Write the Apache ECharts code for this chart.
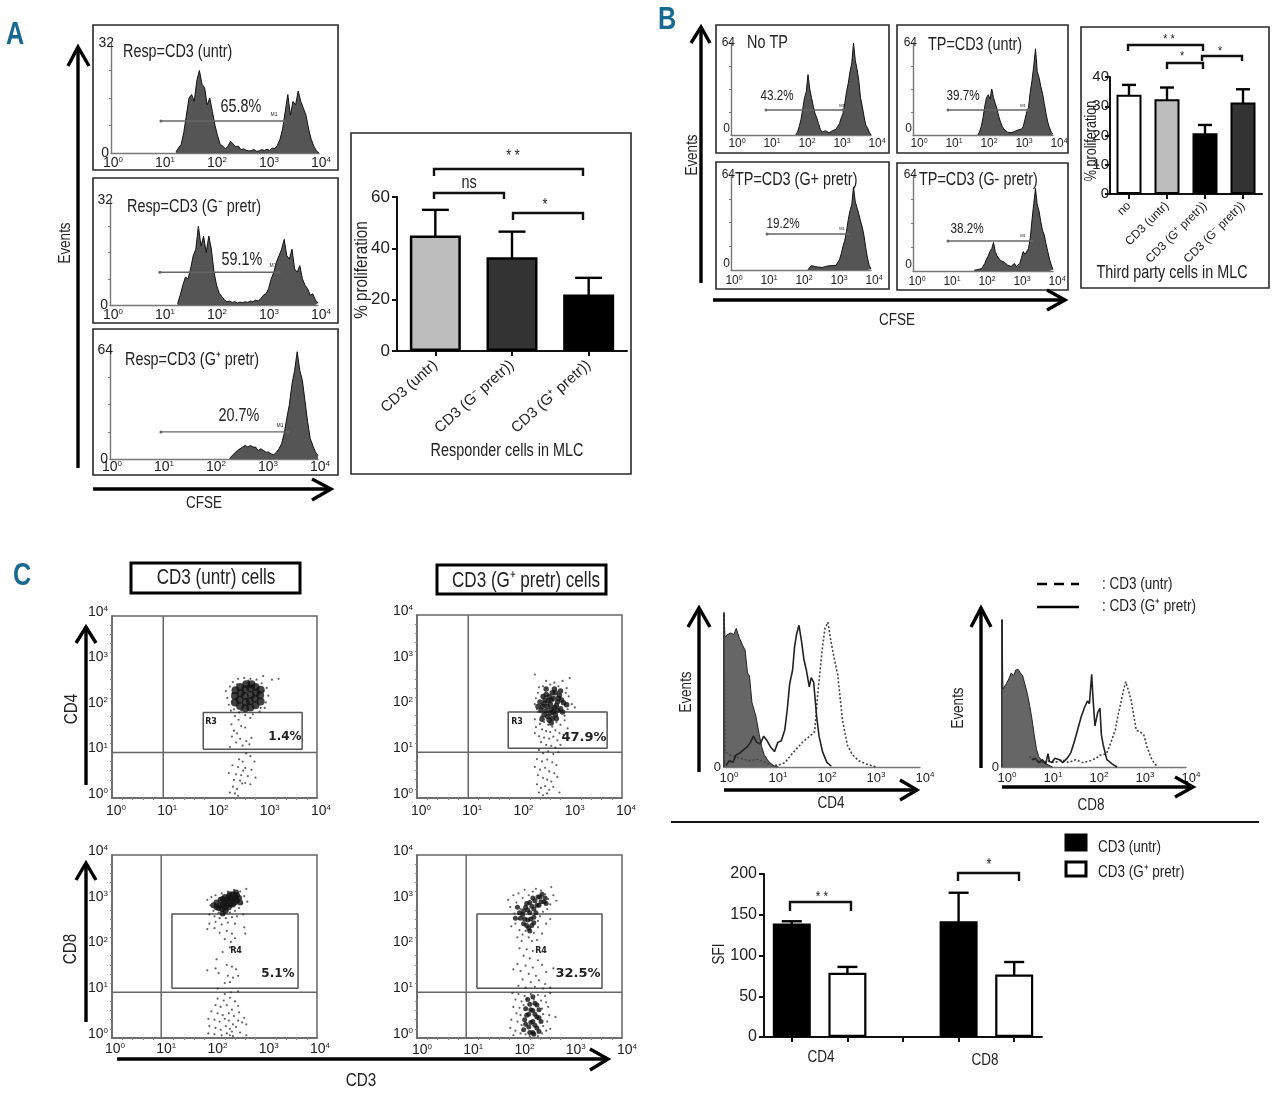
<!DOCTYPE html>
<html><head><meta charset="utf-8"><style>html,body{margin:0;background:#fff}#c{width:1280px;height:1095px}</style>
<script src="https://cdn.jsdelivr.net/npm/echarts@6/dist/echarts.min.js"></script></head><body><div id="c"></div>
<script>
// ---------- DATA (decades = log10 of fluorescence) ----------
const cfseA1Start=1.25, cfseA1=[.3,1.5,2.5,6,11,16,17,15,21,24,20,19,14,16,12,8,5,2.5,2,1.2,2,3.4,2.6,1.8,2,1,1.2,.8,.6,.7,1,.5,.6,1,.7,1.1,.8,1.4,1.3,2.2,4,7,12,17,11,15,14,18,15,13,11,7,4,2,.6,0];
const cfseA2Start=1.3, cfseA2=[.4,3,6,8.5,8,11,15,17,24,18,21,16,21,17,10,6,3.6,2.6,1.6,1,1.2,.8,1,.6,.9,.7,1,.8,1.2,1,1.5,1.2,2,3,3.4,5,8,10,13,15,17,20,15,14,17,11,10,12,8,6,5,3,3.4,1.5,.6];
const cfseA3Start=2.3, cfseA3=[.5,2,3.5,5,6,7,8,7,8,7,7,5,6,5,4,4,3,2.5,4,6,9,15,24,32,44,52,63,52,46,34,22,12,8,4,2];
const cfseB1Start=1.85, cfseB1=[.5,2,6,11,18,26,30,42,32,26,20,15,12,8,4,2,2.5,3,2,1.5,2,3,3,4,6,8,12,15,22,30,36,44,50,64,52,46,38,26,20,13,7,5,2,0];
const cfseB2Start=1.85, cfseB2=[.5,2,6,12,20,26,28,25,32,26,22,18,13,9,6,4,3,2,1.5,1.5,2,2.5,3,3.5,3,4,6,11,16,19,30,38,48,60,44,40,34,29,22,15,9,5,2,.8];
const cfseB3Start=2.2, cfseB3=[.4,1.5,3,3.4,2.2,3,2,2.5,1.6,2,2.4,2,2.8,2.4,3,2.6,3,4,7,11,16,20,26,34,40,44,56,46,42,38,33,29,23,15,8,3,.6];
const cfseB4Start=1.75, cfseB4=[.5,.3,1,.5,1.5,3,5,8,10,13,15,19,13,10,9,7,8,6,7,4,3.5,3,4,5,3,3.4,5,9,13,11,12,15,22,34,45,55,44,40,33,27,24,18,13,8,4,1];
const yMaxA=[32,32,64], yMaxB=[64,64,64,64];
const gateA1=[.96,3.33,9.3], gateA2=[.96,3.25,10], gateA3=[.98,3.42,15.9];
const gateB1=[1,3.2,17.4], gateB2=[1,3.29,17.4], gateB3=[1.03,3.34,24.3], gateB4=[1,3.4,20];

const catsA=['CD3 (untr)','CD3 (G\u207B pretr))','CD3 (G\u207A pretr))'];
const meanA=[45,36.5,22], errTopA=[55,46.5,28.5];
const catsB=['no','CD3 (untr)','CD3 (G\u207A pretr))','CD3 (G\u207B pretr))'];
const meanB=[33.9,32.4,20.8,31.3], errTopB=[37.3,36.4,23.6,35.8];
const catsC=['CD4','','','CD8',''];
const meanUntr=[139.3,null,null,142,null], errUntr=[142,null,null,177,null];
const meanPretr=[null,78.7,null,null,76.6], errPretr=[null,86,null,null,92];

const cd4Filled=[[0,0],[0,100],[.02,84],[.07,86],[.14,87],[.2,86],[.25,90],[.31,84],[.38,79],[.43,76],[.48,61],[.52,59],[.57,42],[.65,33],[.72,21],[.77,13],[.82,8],[.9,4],[1,1],[1.11,0]];
const cd4Pretr=[[.04,1],[.11,4],[.18,3],[.25,8],[.32,9],[.39,11],[.47,13],[.54,16],[.6,20],[.67,16],[.74,15],[.81,20],[.88,17],[.95,13],[1.03,10],[1.1,16],[1.17,17],[1.24,24],[1.29,37],[1.34,54],[1.4,63],[1.44,78],[1.48,86],[1.53,92],[1.58,82],[1.63,70],[1.68,63],[1.74,52],[1.78,58],[1.83,55],[1.89,33],[1.94,20],[2.01,10],[2.1,3],[2.19,.5]];
const cd4Untr=[[0,100],[.02,10],[.1,8],[.3,6],[.5,4],[.7,5],[.9,2],[1.1,1],[1.25,3],[1.4,9],[1.6,16],[1.75,20],[1.85,23],[1.92,50],[2,75],[2.06,90],[2.12,94],[2.18,82],[2.24,72],[2.32,60],[2.42,30],[2.52,14],[2.62,8],[2.75,4],[2.9,2],[3.1,0]];
const cd8Filled=[[0,0],[0,100],[.02,53],[.1,57],[.15,60],[.2,64],[.25,62],[.3,66],[.35,66.5],[.4,64],[.45,62],[.5,56],[.55,50],[.6,42],[.65,33],[.7,22],[.75,12],[.8,7],[.9,3],[1,1.5],[1.1,0]];
const cd8Pretr=[[.65,5],[.72,6],[.8,3],[.88,5],[.95,2],[1,9],[1.03,4],[1.08,3],[1.15,6],[1.25,5],[1.32,3],[1.42,6],[1.5,10],[1.58,18],[1.65,26],[1.72,34],[1.8,41],[1.86,45],[1.9,43],[1.95,63],[1.98,46],[2.02,28],[2.08,37],[2.13,40],[2.16,22],[2.2,15],[2.28,5],[2.4,2],[2.5,0]];
const cd8Untr=[[.6,7],[.7,5],[.85,3],[1,4],[1.15,3],[1.3,5],[1.45,3],[1.6,5],[1.75,3],[1.9,4],[2.05,6],[2.12,8],[2.27,9],[2.36,16],[2.46,25],[2.52,35],[2.58,43],[2.64,52],[2.69,58],[2.75,52],[2.81,45],[2.87,34],[2.92,25],[3,24],[3.08,22],[3.15,14],[3.23,7],[3.3,3],[3.38,0]];

const dotsCoreP1=[[2.40,2.10],[2.40,2.24],[2.41,2.37],[2.50,2.02],[2.49,2.16],[2.51,2.30],[2.50,2.44],[2.60,1.97],[2.61,2.11],[2.59,2.25],[2.60,2.39],[2.62,2.50],[2.70,1.99],[2.69,2.13],[2.71,2.27],[2.70,2.41],[2.72,2.50],[2.80,2.04],[2.79,2.18],[2.81,2.32],[2.80,2.44],[2.90,2.12],[2.89,2.26],[2.90,2.38]];
const dotsP1=[[2.25,2.20],[2.22,2.35],[2.28,2.05],[2.32,1.92],[2.30,2.45],[2.36,2.55],[2.46,2.62],[2.58,2.64],[2.70,2.62],[2.82,2.60],[2.92,2.52],[3.02,2.42],[3.05,2.25],[3.00,2.10],[2.98,1.98],[2.88,1.90],[2.75,1.84],[2.60,1.82],[2.48,1.88],[2.38,1.95],[3.12,2.60],[3.25,2.62],[2.95,2.68],[2.35,2.30],[2.34,2.12],[2.96,2.35],[2.44,2.50],[2.66,2.58],[2.90,1.98],[2.52,1.92],[2.40,1.80],[2.47,1.72],[2.33,1.62],[2.52,1.58],[2.38,1.48],[2.44,1.42],[2.60,1.55],[2.70,1.76],[2.34,1.35],[2.50,1.30],[2.42,1.22],[2.62,1.25],[2.68,1.18],[2.72,1.32],[2.55,1.15],[2.30,1.12],[2.62,.98],[2.70,.92],[2.48,.85],[2.55,.80],[2.78,.80],[2.35,.72],[2.46,.68],[2.60,.66],[2.72,.62],[2.28,.55],[2.42,.52],[2.52,.50],[2.65,.48],[2.80,.45],[2.38,.40],[2.50,.38],[2.60,.33],[2.70,.30],[2.36,.25],[2.44,.20],[2.30,.12],[2.40,.10],[2.46,.05],[2.54,.32],[2.56,.60]];
const dotsCoreP2=[[2.45,2.00],[2.50,2.14],[2.52,1.90],[2.58,2.22],[2.60,2.05],[2.60,1.85],[2.66,2.18],[2.68,1.98],[2.70,1.82],[2.74,2.10],[2.78,2.24],[2.80,1.95],[2.55,1.78],[2.64,1.74],[2.46,2.22],[2.86,2.08],[2.42,1.92],[2.48,2.06],[2.54,2.00],[2.56,2.12],[2.52,2.26],[2.62,2.14],[2.64,2.30],[2.62,1.94],[2.66,1.88],[2.72,2.02],[2.74,1.92],[2.76,2.18],[2.70,2.30],[2.82,2.14],[2.84,1.88],[2.58,1.70],[2.48,1.82],[2.40,2.10],[2.72,1.74],[2.92,2.04],[2.36,2.00],[2.52,2.38],[2.68,2.38],[2.80,2.34],[2.44,1.72],[2.62,1.64]];
const dotsP2=[[2.36,2.30],[2.32,2.18],[2.30,2.05],[2.38,2.42],[2.46,2.44],[2.52,2.56],[2.60,2.48],[2.68,2.52],[2.76,2.44],[2.84,2.56],[2.92,2.40],[2.98,2.62],[2.30,2.70],[2.96,2.22],[3.02,2.05],[2.94,1.94],[2.88,1.80],[3.08,1.98],[2.90,2.30],[2.36,1.88],[2.42,1.78],[2.34,1.94],[2.30,1.72],[2.40,1.62],[2.48,1.66],[2.56,1.60],[2.64,1.56],[2.72,1.66],[2.80,1.60],[2.88,1.70],[2.94,1.52],[2.32,1.55],[2.44,1.50],[2.52,1.46],[2.60,1.44],[2.70,1.48],[2.78,1.42],[2.86,1.38],[2.30,1.42],[2.38,1.35],[2.48,1.32],[2.58,1.30],[2.66,1.34],[2.74,1.26],[2.42,1.22],[2.52,1.16],[2.62,1.14],[2.70,1.10],[2.80,1.16],[2.38,1.05],[2.46,.98],[2.56,1.02],[2.66,.96],[2.76,1.00],[2.34,.85],[2.44,.80],[2.54,.84],[2.64,.78],[2.72,.72],[2.30,.68],[2.40,.62],[2.50,.66],[2.58,.58],[2.68,.54],[2.36,.50],[2.46,.44],[2.54,.40],[2.62,.36],[2.74,.46],[2.34,.30],[2.42,.22],[2.50,.26],[2.58,.18],[2.38,.12],[2.46,.06],[2.54,.10],[2.66,.24],[2.78,.12]];
const dotsCoreP3=[[2.10,2.90],[2.12,3.02],[2.20,2.84],[2.20,2.96],[2.20,3.08],[2.28,2.86],[2.28,2.98],[2.28,3.10],[2.36,2.92],[2.36,3.04],[2.36,3.14],[2.44,3.00],[2.44,3.12],[2.04,2.96],[2.16,2.92],[2.14,2.82],[2.24,2.90],[2.24,3.02],[2.32,2.92],[2.32,3.04],[2.40,2.96],[2.40,3.08],[2.16,3.04],[2.08,2.84],[2.48,3.06],[2.30,3.14],[2.22,2.78],[1.98,2.90],[2.04,2.86],[2.50,2.96],[2.42,3.18],[2.16,2.72]];
const dotsP3=[[1.86,3.02],[1.92,2.90],[1.94,3.08],[1.98,2.78],[2.02,3.12],[2.08,2.74],[2.14,3.16],[2.18,2.72],[2.26,3.20],[2.30,2.74],[2.38,3.24],[2.40,2.78],[2.48,2.84],[2.50,3.20],[2.54,2.94],[2.58,3.10],[2.62,3.26],[2.64,2.98],[2.00,2.66],[2.10,2.62],[1.90,2.70],[2.22,2.62],[2.34,2.64],[2.44,2.66],[2.56,2.70],[1.90,2.50],[2.02,2.54],[1.86,2.38],[2.00,2.40],[2.14,2.48],[2.26,2.52],[2.40,2.50],[2.58,2.42],[2.10,2.30],[2.24,2.34],[2.34,2.28],[2.60,2.28],[2.20,2.16],[2.32,2.10],[2.40,2.18],[2.30,1.98],[2.40,1.96],[2.16,1.88],[2.04,1.72],[2.02,1.52],[1.86,1.48],[2.08,1.42],[2.24,1.60],[2.34,1.56],[2.42,1.50],[2.26,1.36],[2.36,1.32],[2.46,1.36],[2.20,1.20],[2.30,1.22],[2.06,1.08],[2.32,1.00],[2.46,1.02],[2.20,.96],[2.06,.86],[2.18,.82],[2.30,.88],[2.40,.80],[2.02,.72],[2.12,.68],[2.24,.72],[2.34,.62],[2.46,.70],[1.94,.58],[2.06,.54],[2.16,.50],[2.28,.54],[2.38,.48],[2.48,.56],[2.58,.44],[1.88,.42],[2.00,.40],[2.10,.36],[2.20,.42],[2.28,.38],[2.36,.30],[2.46,.38],[2.54,.34],[1.90,.26],[2.02,.22],[2.12,.18],[2.22,.26],[2.30,.20],[2.34,.14],[2.42,.24],[2.62,.30],[1.88,.10],[2.00,.08],[2.14,.06],[2.24,.10],[2.30,.06],[2.36,.04],[2.50,.12],[2.62,.06]];
const dotsCoreP4=[[2.06,2.70],[2.12,2.86],[2.16,2.58],[2.20,2.74],[2.20,2.96],[2.28,2.64],[2.28,2.82],[2.30,3.00],[2.38,2.90],[2.40,3.08],[2.48,2.98],[2.14,2.46],[2.24,2.46],[2.02,2.62],[2.08,2.78],[2.10,2.60],[2.16,2.80],[2.14,2.94],[2.22,2.60],[2.24,2.88],[2.26,3.06],[2.32,2.74],[2.34,2.90],[2.36,3.08],[2.42,2.98],[2.44,3.14],[2.50,3.06],[2.52,2.94],[2.18,2.40],[2.08,2.50],[2.00,2.74],[1.96,2.86],[2.28,2.52],[2.20,2.34],[1.92,2.62],[2.10,.40],[2.18,.24],[2.18,.52],[2.26,.12],[2.26,.36],[2.26,.60],[2.34,.22],[2.34,.46],[2.34,.72],[2.20,.74],[2.42,.36],[2.12,.30],[2.14,.50],[2.12,.64],[2.20,.12],[2.22,.34],[2.22,.62],[2.30,.28],[2.30,.52],[2.30,.76],[2.38,.14],[2.38,.44],[2.38,.62],[2.28,.08],[2.16,.84],[2.26,.90],[2.08,.18]];
const dotsP4=[[1.78,3.02],[1.82,2.86],[1.88,3.12],[1.90,2.72],[1.94,2.96],[1.98,2.60],[1.98,3.16],[2.02,2.82],[2.06,3.06],[2.10,3.24],[2.18,3.12],[2.26,3.20],[2.32,3.26],[2.42,3.22],[2.50,3.14],[2.56,3.04],[2.60,2.92],[2.54,2.82],[2.46,2.76],[2.40,2.66],[2.66,3.12],[2.72,3.00],[2.62,3.30],[2.36,2.56],[1.84,2.44],[1.92,2.50],[2.00,2.36],[2.06,2.26],[2.12,2.34],[2.18,2.20],[2.28,2.30],[2.36,2.42],[2.44,2.28],[2.52,2.50],[1.96,2.20],[2.04,2.12],[2.24,2.12],[2.34,2.14],[2.60,2.60],[2.00,1.96],[2.14,1.94],[2.26,1.90],[2.08,1.80],[2.20,1.74],[2.36,1.70],[1.96,1.62],[2.12,1.58],[2.26,1.54],[2.44,1.60],[1.88,1.50],[2.02,1.46],[2.18,1.40],[2.32,1.36],[2.52,1.44],[2.66,1.52],[2.06,1.28],[2.22,1.22],[2.38,1.26],[2.50,1.18],[1.98,1.14],[2.12,1.10],[2.30,1.12],[2.46,1.08],[2.60,1.10],[1.86,.98],[1.98,.96],[2.10,.92],[2.22,.96],[2.36,.94],[2.50,.92],[2.60,.98],[1.92,.84],[2.04,.80],[2.14,.86],[2.28,.84],[2.42,.82],[2.52,.78],[1.88,.68],[2.00,.66],[2.08,.72],[2.44,.64],[2.56,.68],[1.94,.54],[2.02,.50],[2.46,.52],[2.58,.50],[1.84,.40],[1.96,.36],[2.04,.28],[2.46,.26],[2.54,.36],[2.70,.46],[1.82,.22],[1.92,.16],[2.02,.10],[2.12,.08],[2.44,.10],[2.52,.16],[2.60,.20],[1.88,.06],[2.20,.04],[2.36,.04]];
const quadP1=[1,1], quadP2=[1,1], quadP3=[.96,1], quadP4=[.96,1];
const regionP1=[1.78,3.71,1.07,1.88], regionP2=[1.78,3.71,1.09,1.88], regionP3=[1.17,3.63,1.09,2.71], regionP4=[1.17,3.61,1.09,2.71];

// ---------- BUILD ----------
const F='"Liberation Sans",sans-serif', TXT='#222';
const grid=[],xAxis=[],yAxis=[],series=[],graphic=[];
const base={type:'line',symbol:'none',silent:true,animation:false,clip:false};
const decade=(fs,sup)=>({formatter:v=>'{b|10}{s|'+v+'}',rich:{b:{fontSize:fs,fontFamily:F,color:TXT},s:{fontSize:sup,fontFamily:F,color:TXT,padding:[0,0,Math.round(fs*.45),0]}}});
function addGrid(r,x,y,g){const i=grid.length;grid.push(Object.assign({left:r[0],top:r[1],width:r[2],height:r[3],containLabel:false},g||{}));xAxis.push(Object.assign({gridIndex:i},x));yAxis.push(Object.assign({gridIndex:i},y));return i}
const bins=(s,a)=>a.map((v,k)=>[+(s+k*.05).toFixed(2),v]);
// reference type is a narrow sans: text is drawn taller and squeezed horizontally
function txt(t,x,y,o){o=o||{};const narrow=!o.ff;graphic.push({type:'text',x,y,rotation:(o.rot||0)*Math.PI/180,scaleX:narrow?.8:1,silent:true,z:20,style:{text:t,fontFamily:o.ff||F,fontSize:(o.fs||16)*(narrow?1.125:1),fontWeight:o.fw||'normal',fill:o.c||TXT,align:o.al||'center',verticalAlign:'middle'}})}
function frame(x0,y0,x1,y1,w,c){graphic.push({type:'rect',silent:true,z:1,shape:{x:x0,y:y0,width:x1-x0,height:y1-y0},style:{fill:'none',stroke:c||'#2a2a2a',lineWidth:w||1.6}})}
function poly(p,w,c,dash){graphic.push({type:'polyline',silent:true,z:15,shape:{points:p},style:{fill:'none',stroke:c||'#111',lineWidth:w||2,lineDash:dash||null}})}
function bracket(x0,x1,y,drop){poly([[x0,y+drop],[x0,y],[x1,y],[x1,y+drop]],2.4,'#111')}

function hist(r,bn,gate,yMax,shift,labFs,minBottom,lblMargin,yMargin,zeroPad){
  const i=addGrid(r,
    {type:'value',min:0,max:4,interval:1,splitLine:{show:false},axisTick:{show:false},axisLine:{lineStyle:{color:'#777',width:1.4}},
     axisLabel:Object.assign({margin:lblMargin,padding:[0,0,0,shift*2],hideOverlap:false},decade(labFs,Math.round(labFs*.6)))},
    {type:'value',min:0,max:yMax,interval:yMax,splitLine:{show:false},axisTick:{show:false},axisLine:{onZero:false,lineStyle:{color:'#777',width:1.4}},
     minorTick:{show:true,splitNumber:4,length:2,lineStyle:{color:'#777'}},
     axisLabel:{margin:yMargin,fontSize:labFs,fontFamily:F,color:TXT,verticalAlignMinLabel:minBottom?'bottom':'middle',
       formatter:v=>v===0?'{z|0}':String(v),rich:{z:{fontSize:labFs,fontFamily:F,color:TXT,padding:[0,zeroPad,0,0]}}}});
  series.push(Object.assign({},base,{xAxisIndex:i,yAxisIndex:i,data:bn,lineStyle:{color:'#111',width:1},areaStyle:{color:'#555',opacity:1},z:3}));
  series.push(Object.assign({},base,{xAxisIndex:i,yAxisIndex:i,data:[[gate[0],gate[2]],[gate[1],gate[2]]],lineStyle:{color:'#666',width:1.4},symbol:'circle',symbolSize:3,itemStyle:{color:'#666'},z:4}));
}
// Panel A histograms
hist([111,43,208,110],bins(cfseA1Start,cfseA1),gateA1,yMaxA[0],2,14,false,3,-3,5);
hist([110,200,208,105],bins(cfseA2Start,cfseA2),gateA2,yMaxA[1],3,14,false,3,-3,5);
hist([110,350,208,109],bins(cfseA3Start,cfseA3),gateA3,yMaxA[2],2,14,false,1,-3,5);
[[93,25,338,170],[93,178,338,323],[93,329,338,475]].forEach(f=>frame(...f));
txt('Resp=CD3 (untr)',123,52,{al:'left'});txt('Resp=CD3 (G\u207B pretr)',127,207,{al:'left'});txt('Resp=CD3 (G\u207A pretr)',125,360,{al:'left'});
txt('65.8%',241,107);txt('59.1%',242,260);txt('20.7%',239,416);
[[274,115],[273,266],[280,426]].forEach(p=>txt('M1',p[0],p[1],{fs:5,ff:'Liberation Sans'}));
poly([[78,468],[78,47]],3.4,'#000');poly([[68,66],[78,47],[89,66]],3.4,'#000');
poly([[93,489],[331,489]],3.4,'#000');poly([[312,479],[331,489],[312,500]],3.4,'#000');
txt('Events',65,243,{rot:90,fs:15});txt('CFSE',204,503,{fs:15});
txt('A',15,35,{fs:28,fw:'bold',c:'#17698f'});

function bars(r,cats,val,err,colors,opt){
  const i=addGrid(r,
    {type:'category',data:cats,axisLine:{lineStyle:{color:'#111',width:2}},axisTick:{show:true,alignWithLabel:true,length:5,lineStyle:{color:'#111',width:2}},
     axisLabel:{interval:0,rotate:opt.rot,fontSize:opt.catFs,fontFamily:F,color:TXT,margin:opt.catMargin}},
    {type:'value',min:0,max:opt.max,interval:opt.step,splitLine:{show:false},axisLine:{show:true,lineStyle:{color:'#111',width:2}},axisTick:{show:true,length:5,lineStyle:{color:'#111',width:2}},
     axisLabel:{fontSize:opt.valFs,fontFamily:F,color:TXT,margin:opt.valMargin}});
  series.push({type:'bar',silent:true,animation:false,xAxisIndex:i,yAxisIndex:i,barWidth:opt.w,z:3,
    data:val.map((v,k)=>({value:v,itemStyle:{color:colors[k],borderColor:'#000',borderWidth:opt.bw}}))});
  series.push(errSeries(i,err,opt.cap));
}
function errSeries(i,err,cap){return {type:'custom',silent:true,animation:false,xAxisIndex:i,yAxisIndex:i,z:2,clip:false,
  data:err.map((v,k)=>[k,v]).filter(d=>d[1]!==null),encode:{x:0,y:1},
  renderItem:(p,api)=>{const top=api.coord([api.value(0),api.value(1)]),bot=api.coord([api.value(0),0]);
    return {type:'group',children:[
      {type:'line',shape:{x1:top[0],y1:top[1],x2:bot[0],y2:bot[1]},style:{stroke:'#000',lineWidth:2.4}},
      {type:'line',shape:{x1:top[0]-cap/2,y1:top[1],x2:top[0]+cap/2,y2:top[1]},style:{stroke:'#000',lineWidth:2.4}}]}}}}

// Panel A bars
frame(351,133,631,474);
bars([397,197,230,154],catsA,meanA,errTopA,['#bdbdbd','#333','#000'],{rot:42,catFs:15,catMargin:12,max:60,step:20,valFs:17,valMargin:7,w:51,bw:2.5,cap:27});
bracket(434,583,169,7);bracket(434,504,193,6);bracket(513,583,213,7);
txt('* *',513,157,{fs:14});txt('ns',469,183,{fs:16});txt('*',545,206,{fs:14});
txt('% proliferation',362,270,{rot:90,fs:17});txt('Responder cells in MLC',507,451,{fs:16});

// Panel B histograms
hist([731,43,140,92],bins(cfseB1Start,cfseB1),gateB1,yMaxB[0],6,12,true,3,-4,5);
hist([913,43,140,92],bins(cfseB2Start,cfseB2),gateB2,yMaxB[1],6,12,true,3,-4,5);
hist([731,175,140,95],bins(cfseB3Start,cfseB3),gateB3,yMaxB[2],3,12,true,5,-4,5);
hist([913,175,140,96],bins(cfseB4Start,cfseB4),gateB4,yMaxB[3],4,12,true,5,-4,5);
[[716,25,889,153],[897,25,1068,153],[716,162,889,289],[897,163,1068,290]].forEach(f=>frame(...f));
txt('No TP',747,43,{al:'left'});txt('TP=CD3 (untr)',928,45,{al:'left'});txt('TP=CD3 (G+ pretr)',735,180,{al:'left'});txt('TP=CD3 (G- pretr)',919,180,{al:'left'});
txt('43.2%',777,96,{fs:13});txt('39.7%',963,96,{fs:13});txt('19.2%',783,224,{fs:13});txt('38.2%',967,229,{fs:13});
[[842,106],[1023,106],[842,229],[1023,236]].forEach(p=>txt('M1',p[0],p[1],{fs:4,ff:'Liberation Sans'}));
poly([[701,283],[701,27]],3.4,'#000');poly([[691,43],[701,27],[710,43]],3.4,'#000');
poly([[713,300],[1065,300]],3.4,'#000');poly([[1047,290],[1065,300],[1047,310]],3.4,'#000');
txt('Events',692,155,{rot:90,fs:15});txt('CFSE',897,320,{fs:15});
txt('B',667,20,{fs:28,fw:'bold',c:'#17698f'});

// Panel B bars
frame(1081,27,1269,288);
bars([1110,77,152,117],catsB,meanB,errTopB,['#fff','#bdbdbd','#000','#333'],{rot:45,catFs:12,catMargin:10,max:40,step:10,valFs:15,valMargin:1,w:25,bw:2,cap:14});
bracket(1128,1203,45,6);bracket(1167,1203,63,6);bracket(1202,1242,56,5);
txt('* *',1169,39,{fs:12});txt('*',1182,56,{fs:12});txt('*',1220,51,{fs:12});
txt('% proliferation',1092,141,{rot:90,fs:14});txt('Third party cells in MLC',1172,273,{fs:16});

// Panel C dot plots
function dots(r,core,cloud,quad,reg,coreSize,shiftX,margin){
  const i=addGrid(r,
    {type:'value',min:0,max:4,interval:1,splitLine:{show:false},axisTick:{show:false},axisLine:{lineStyle:{color:'#666',width:1.5}},
     minorTick:{show:true,splitNumber:5,length:2,lineStyle:{color:'#888'}},
     axisLabel:Object.assign({margin:margin,padding:[0,0,0,shiftX*2]},decade(14,8))},
    {type:'value',min:0,max:4,interval:1,splitLine:{show:false},axisTick:{show:false},axisLine:{lineStyle:{color:'#666',width:1.5}},
     minorTick:{show:true,splitNumber:5,length:2,lineStyle:{color:'#888'}},
     axisLabel:Object.assign({margin:4,padding:[0,0,8,0]},decade(14,8))},
    {show:true,borderColor:'#666',borderWidth:1.5,backgroundColor:'transparent'});
  const ln=(d,c,w)=>Object.assign({},base,{xAxisIndex:i,yAxisIndex:i,data:d,lineStyle:{color:c,width:w},z:4});
  series.push(ln([[quad[0],0],[quad[0],4]],'#666',1.5));
  series.push(ln([[0,quad[1]],[4,quad[1]]],'#666',1.5));
  series.push(ln([[reg[0],reg[2]],[reg[1],reg[2]],[reg[1],reg[3]],[reg[0],reg[3]],[reg[0],reg[2]]],'#555',1.5));
  series.push({type:'scatter',silent:true,animation:false,xAxisIndex:i,yAxisIndex:i,data:cloud,symbolSize:2.2,itemStyle:{color:'#222',opacity:.7},z:5});
  series.push({type:'scatter',silent:true,animation:false,xAxisIndex:i,yAxisIndex:i,data:core,symbolSize:coreSize,itemStyle:{color:'#111',opacity:.8},z:5});
}
dots([112,616,205,182],dotsCoreP1,dotsP1,quadP1,regionP1,8,4,6);
dots([417,615,205,183],dotsCoreP2,dotsP2,quadP2,regionP2,5.5,4,6);
dots([112,855,205,183],dotsCoreP3,dotsP3,quadP3,regionP3,6,3,4);
dots([417,855,205,183],dotsCoreP4,dotsP4,quadP4,regionP4,5,5,5);
frame(131,563,300,593,3,'#000');frame(437,565,606,594,3,'#000');
txt('CD3 (untr) cells',216,578,{fs:19});txt('CD3 (G\u207A pretr) cells',526,581,{fs:19});
const DV='"DejaVu Sans",sans-serif';
txt('R3',211,722,{fs:8,fw:'bold',ff:DV});txt('1.4%',285,737,{fs:12,fw:'bold',ff:DV});
txt('R3',517,722,{fs:8,fw:'bold',ff:DV});txt('47.9%',584,738,{fs:13,fw:'bold',ff:DV});
txt('R4',236,951,{fs:8,fw:'bold',ff:DV});txt('5.1%',278,974,{fs:12,fw:'bold',ff:DV});
txt('R4',541,951,{fs:8,fw:'bold',ff:DV});txt('32.5%',578,974,{fs:13,fw:'bold',ff:DV});
poly([[86,785],[86,627]],3.4,'#000');poly([[76,643],[86,627],[96,643]],3.4,'#000');
poly([[86,1022],[86,863]],3.4,'#000');poly([[76,880],[86,863],[96,880]],3.4,'#000');
poly([[117,1059],[608,1059]],3.4,'#000');poly([[590,1049],[608,1059],[590,1070]],3.4,'#000');
txt('CD4',72,709,{rot:90,fs:17});txt('CD8',71,949,{rot:90,fs:17});txt('CD3',361,1081,{fs:17});
txt('C',22,576,{fs:28,fw:'bold',c:'#17698f'});

// Panel C overlays
function overlay(r,filled,pretr,untr,margin,shift){
  const i=addGrid(r,
    {type:'value',min:0,max:4,interval:1,splitLine:{show:false},axisTick:{show:false},axisLine:{lineStyle:{color:'#777',width:1.4}},
     axisLabel:Object.assign({margin:margin,padding:[0,0,0,shift*2]},decade(13,8))},
    {type:'value',min:0,max:100,interval:100,splitLine:{show:false},axisTick:{show:false},axisLine:{lineStyle:{color:'#555',width:2}},
     axisLabel:{margin:3,fontSize:13,fontFamily:F,color:TXT,formatter:v=>v===0?'0':''}});
  series.push(Object.assign({},base,{xAxisIndex:i,yAxisIndex:i,data:filled,lineStyle:{color:'#222',width:1},areaStyle:{color:'#666',opacity:1},z:3}));
  series.push(Object.assign({},base,{xAxisIndex:i,yAxisIndex:i,data:untr,lineStyle:{color:'#444',width:1.6,type:[2,2]},z:4}));
  series.push(Object.assign({},base,{xAxisIndex:i,yAxisIndex:i,data:pretr,lineStyle:{color:'#222',width:1.6},z:5}));
}
overlay([724,613,196,154],cd4Filled,cd4Pretr,cd4Untr,4,5);
overlay([1002,620,184,147],cd8Filled,cd8Pretr,cd8Untr,4,5);
poly([[699,772],[699,608]],3.4,'#000');poly([[688,627],[699,608],[710,627]],3.4,'#000');
poly([[724,790],[917,790]],3.4,'#000');poly([[900,780],[917,790],[900,800]],3.4,'#000');
poly([[981,768],[981,608]],3.4,'#000');poly([[971,627],[981,608],[991,627]],3.4,'#000');
poly([[1002,787],[1193,787]],3.4,'#000');poly([[1175,777],[1193,787],[1175,797]],3.4,'#000');
txt('Events',686,692,{rot:90,fs:15});txt('Events',958,708,{rot:90,fs:15});txt('CD4',831,803,{fs:15});txt('CD8',1091,805,{fs:15});
poly([[1037,584],[1079,584]],2.4,'#000',[10,7]);poly([[1037,607],[1079,607]],2.4,'#000');
txt(': CD3 (untr)',1102,584,{al:'left',fs:15});txt(': CD3 (G\u207A pretr)',1102,606,{al:'left',fs:15});
poly([[671,822],[1259,822]],2,'#111');

// Panel C SFI bars
{
  const i=addGrid([764,874,278,163],
    {type:'category',data:catsC,axisLine:{lineStyle:{color:'#111',width:2}},axisTick:{show:true,alignWithLabel:true,length:5,lineStyle:{color:'#111',width:2}},axisLabel:{show:false}},
    {type:'value',min:0,max:200,interval:50,splitLine:{show:false},axisLine:{show:true,lineStyle:{color:'#111',width:2}},axisTick:{show:true,length:5,lineStyle:{color:'#111',width:2}},axisLabel:{fontSize:16,fontFamily:F,color:TXT,margin:7}});
  series.push({type:'bar',name:'CD3 (untr)',silent:true,animation:false,xAxisIndex:i,yAxisIndex:i,barWidth:38,barGap:'-100%',z:3,data:meanUntr,itemStyle:{color:'#000',borderColor:'#000',borderWidth:2}});
  series.push({type:'bar',name:'CD3 (G\u207A pretr)',silent:true,animation:false,xAxisIndex:i,yAxisIndex:i,barWidth:38,barGap:'-100%',z:3,data:meanPretr,itemStyle:{color:'#fff',borderColor:'#000',borderWidth:2.2}});
  series.push(errSeries(i,errUntr,20));
  series.push(errSeries(i,errPretr,20));
}
bracket(790,851,902,9);bracket(958,1019,873,8);
txt('* *',822,897,{fs:13});txt('*',989,866,{fs:14});
txt('SFI',719,954,{rot:90,fs:15});txt('CD4',821,1057,{fs:15});txt('CD8',985,1060,{fs:15});
frame(1066,835,1086,850,3,'#000');graphic[graphic.length-1].style.fill='#000';
frame(1066,862,1086,876,3,'#000');
txt('CD3 (untr)',1098,847,{al:'left',fs:15});txt('CD3 (G\u207A pretr)',1098,872,{al:'left',fs:15});

const chart=echarts.init(document.getElementById('c'),null,{renderer:'canvas'});
chart.setOption({animation:false,backgroundColor:'#fff',grid,xAxis,yAxis,series,graphic});
</script></body></html>
